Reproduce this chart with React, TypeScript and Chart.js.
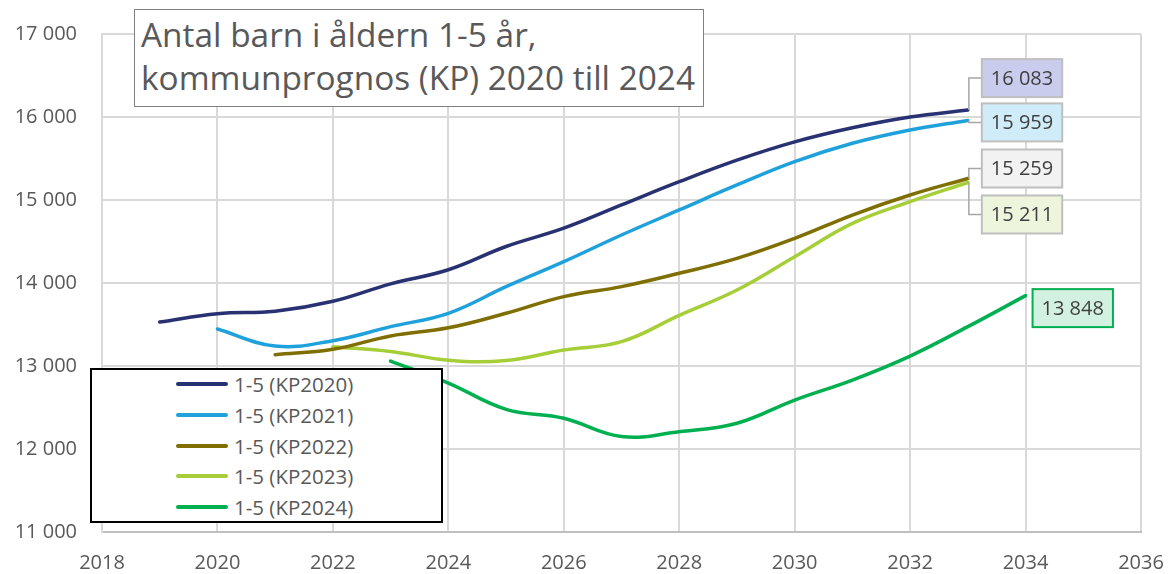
import React, { useEffect, useRef } from 'react';
import { Chart, registerables } from 'chart.js';

Chart.register(...registerables);

// ---------- data ----------
const YEARS = [2019, 2020, 2021, 2022, 2023, 2024, 2025, 2026, 2027, 2028, 2029, 2030, 2031, 2032, 2033, 2034];

const KP2020 = [13530, 13630, 13660, 13780, 13990, 14160, 14440, 14660, 14940, 15220, 15480, 15700, 15870, 16000, 16083, null];
const KP2021 = [null, 13446, 13240, 13305, 13474, 13635, 13956, 14257, 14578, 14880, 15181, 15462, 15683, 15843, 15959, null];
const KP2022 = [null, null, 13136, 13201, 13362, 13460, 13635, 13836, 13956, 14117, 14297, 14538, 14819, 15060, 15259, null];
const KP2023 = [null, null, null, 13233, 13175, 13070, 13065, 13193, 13293, 13610, 13916, 14317, 14719, 14980, 15211, null];
const KP2024 = [null, null, null, null, 13060, 12795, 12478, 12370, 12150, 12209, 12310, 12590, 12831, 13120, 13474, 13848];

const SERIES_NAMES = ['1-5 (KP2020)', '1-5 (KP2021)', '1-5 (KP2022)', '1-5 (KP2023)', '1-5 (KP2024)'];
const SERIES_VALUES = [KP2020, KP2021, KP2022, KP2023, KP2024];

const X_TICKS = [2018, 2020, 2022, 2024, 2026, 2028, 2030, 2032, 2034, 2036];
const Y_TICKS = [11000, 12000, 13000, 14000, 15000, 16000, 17000];

const TITLE_LINES = ['Antal barn i åldern 1-5 år,', 'kommunprognos (KP) 2020 till 2024'];

// ---------- styles ----------
const SERIES_COLORS = ['#283172', '#1FA1DC', '#7F6F00', '#A6CE39', '#00B050'];
const END_LABELS = [
  { dx: 14, dy: -32, fill: '#C9CCEC', border: '#BFBFBF', leader: true },
  { dx: 14, dy: 2, fill: '#D1ECF9', border: '#BFBFBF', leader: true },
  { dx: 14, dy: -10, fill: '#F2F2F2', border: '#BFBFBF', leader: true },
  { dx: 14, dy: 32, fill: '#EEF5DD', border: '#BFBFBF', leader: true },
  { dx: 7, dy: 12.5, fill: '#D3F1E0', border: '#00B050', leader: false },
];
const FONT = "'Open Sans', 'Noto Sans', sans-serif";
const TEXT_GREY = '#595959';

const fmt = (v: number) => String(Math.round(v)).replace(/\B(?=(\d{3})+(?!\d))/g, ' ');

const endLabelPlugin = {
  id: 'endLabels',
  afterDatasetsDraw(chart: any) {
    const { ctx } = chart;
    ctx.save();
    ctx.font = `20px ${FONT}`;
    chart.data.datasets.forEach((ds: any, i: number) => {
      const meta = chart.getDatasetMeta(i);
      const pts = meta.data;
      if (!pts.length) return;
      const p = pts[pts.length - 1];
      const raw = ds.data[ds.data.length - 1].y;
      const text = fmt(raw);
      const cfg = END_LABELS[i];
      const w = ctx.measureText(text).width + 18;
      const h = 38;
      const left = p.x + cfg.dx;
      const cy = p.y + cfg.dy;
      const top = cy - h / 2;
      if (cfg.leader) {
        ctx.strokeStyle = '#A6A6A6';
        ctx.lineWidth = 1.5;
        ctx.beginPath();
        ctx.moveTo(p.x + 1, p.y);
        ctx.lineTo(p.x + 1, cy);
        ctx.lineTo(left, cy);
        ctx.stroke();
      }
      ctx.fillStyle = cfg.fill;
      ctx.fillRect(left, top, w, h);
      ctx.strokeStyle = cfg.border;
      ctx.lineWidth = 2;
      ctx.strokeRect(left, top, w, h);
      ctx.fillStyle = '#404040';
      ctx.textAlign = 'center';
      ctx.textBaseline = 'middle';
      ctx.fillText(text, left + w / 2, cy + 1);
    });
    ctx.restore();
  },
};

export default function App() {
  const canvasRef = useRef<HTMLCanvasElement | null>(null);

  useEffect(() => {
    if (!canvasRef.current) return;
    const datasets = SERIES_VALUES.map((vals, i) => ({
      label: SERIES_NAMES[i],
      data: YEARS.map((yr, j) => ({ x: yr, y: vals[j] })).filter((p) => p.y !== null),
      borderColor: SERIES_COLORS[i],
      backgroundColor: SERIES_COLORS[i],
      borderWidth: 3.5,
      pointRadius: 0,
      tension: 0.4,
      fill: false,
      borderCapStyle: 'round' as const,
    }));

    const chart = new Chart(canvasRef.current, {
      type: 'line',
      data: { datasets },
      options: {
        animation: false,
        responsive: false,
        maintainAspectRatio: false,
        layout: { padding: { top: 34, right: 27, left: 0, bottom: 0 } },
        plugins: {
          legend: { display: false },
          tooltip: { enabled: false },
          title: { display: false },
        },
        scales: {
          x: {
            type: 'linear',
            min: X_TICKS[0],
            max: X_TICKS[X_TICKS.length - 1],
            afterBuildTicks: (s: any) => {
              s.ticks = X_TICKS.map((v) => ({ value: v }));
            },
            afterFit: (s: any) => {
              s.height = 42;
              s.paddingLeft = 0;
              s.paddingRight = 0;
            },
            ticks: {
              callback: (v: any) => String(v),
              color: TEXT_GREY,
              font: { family: FONT, size: 20 },
              padding: 19,
              maxRotation: 0,
              autoSkip: false,
            },
            grid: { color: '#D9D9D9', lineWidth: 2, drawTicks: false },
            border: { color: '#BFBFBF', width: 2 },
          },
          y: {
            type: 'linear',
            min: Y_TICKS[0],
            max: Y_TICKS[Y_TICKS.length - 1],
            afterBuildTicks: (s: any) => {
              s.ticks = Y_TICKS.map((v) => ({ value: v }));
            },
            afterFit: (s: any) => {
              s.width = 102;
              s.paddingTop = 0;
              s.paddingBottom = 0;
            },
            ticks: {
              callback: (v: any) => fmt(Number(v)),
              color: TEXT_GREY,
              font: { family: FONT, size: 20 },
              padding: 25,
            },
            grid: { color: '#D9D9D9', lineWidth: 2, drawTicks: false },
            border: { color: '#D9D9D9', width: 2 },
          },
        },
      },
      plugins: [endLabelPlugin],
    });
    return () => chart.destroy();
  }, []);

  return (
    <div style={{ position: 'absolute', left: 0, top: 0, width: 1168, height: 574, background: '#fff', fontFamily: FONT }}>
      <canvas ref={canvasRef} width={1168} height={574} style={{ width: 1168, height: 574, display: 'block' }} />
      <div
        style={{
          position: 'absolute',
          left: 134,
          top: 9,
          width: 570,
          height: 98,
          boxSizing: 'border-box',
          border: '1.5px solid #808080',
          background: '#fff',
          color: TEXT_GREY,
          fontSize: 33.4,
          lineHeight: '43.4px',
          paddingLeft: 6,
          paddingTop: 3,
          whiteSpace: 'nowrap',
          overflow: 'hidden',
        }}
      >
        {TITLE_LINES.map((t, i) => (
          <div key={i}>{t}</div>
        ))}
      </div>
      <div
        style={{
          position: 'absolute',
          left: 90,
          top: 368,
          width: 353,
          height: 155,
          boxSizing: 'border-box',
          border: '2px solid #000',
          background: '#fff',
          display: 'flex',
          flexDirection: 'column',
          justifyContent: 'center',
        }}
      >
        {SERIES_NAMES.map((name, i) => (
          <div key={name} style={{ height: 30.85, display: 'flex', alignItems: 'center', flexShrink: 0 }}>
            <div style={{ marginLeft: 84, width: 52, height: 4, borderRadius: 2, background: SERIES_COLORS[i] }} />
            <div style={{ marginLeft: 6, fontSize: 20.5, color: TEXT_GREY, lineHeight: '30px' }}>{name}</div>
          </div>
        ))}
      </div>
    </div>
  );
}
